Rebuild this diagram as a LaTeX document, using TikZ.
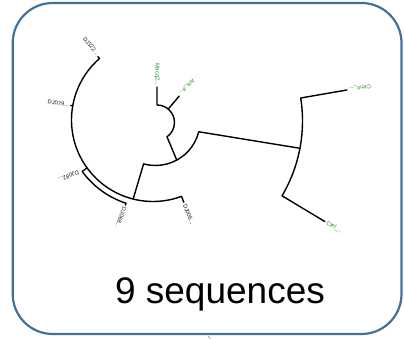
\documentclass[tikz,border=0pt]{standalone}
\usepackage{fontspec}
\setmainfont{Liberation Sans}
\usetikzlibrary{calc}
\definecolor{boxblue}{RGB}{65,113,156}
\definecolor{leafgreen}{RGB}{40,140,40}
\definecolor{leafdark}{RGB}{30,30,30}
\begin{document}
\begin{tikzpicture}[x=1pt,y=1pt,
  branch/.style={line width=1.4pt, line cap=round, line join=round},
  leaflabel/.style={font=\fontsize{5.8}{6}\selectfont, inner sep=0.5pt, text=leafdark},
  greenlabel/.style={leaflabel, text=leafgreen}]
\useasboundingbox (0,0) rectangle (404,339);
% frame
\draw[boxblue, line width=2.2pt, rounded corners=40pt] (12.7,5) rectangle (401.5,336);
\draw[boxblue!70, line width=0.6pt] (208.3,3) -- (210.3,0.3);
% title
\node[anchor=base, font=\fontsize{37}{40}\selectfont, inner sep=0pt] (title) at (220,35.7) {9 sequences};
% inner arc (Macq / Ant)
\begin{scope}[shift={(157,216.5)}]
  \coordinate (Amacq) at (90:17.5);
  \coordinate (Amacqtip) at (90:35.5);
  \coordinate (Aant) at (50:17.5);
  \coordinate (Aanttip) at (50:34.5);
  \coordinate (Aend) at (-55:17.5);
  \node[greenlabel, anchor=east, rotate=-90] (macq) at (90:36.5) {Macq2...};
  \node[greenlabel, anchor=east, rotate=230] (ant) at (50:35.5) {Ant\_a...};
\end{scope}
% middle and right arcs
\begin{scope}[shift={(155.5,218)}]
  \coordinate (Bleft) at (-105.5:44.5);
  \coordinate (Bright) at (-14:44.5);
  \coordinate (Bmid) at (-61.5:44.5);
  \coordinate (Etop) at (9:147);
  \coordinate (Ejoin) at (-10.7:147);
  \coordinate (cenotip) at (9.2:194);
  \coordinate (ctelip) at (-30.7:197);
  \node[greenlabel, anchor=east, rotate=189.2] (ceno) at (9.2:195.5) {Ceno\_...};
  \node[greenlabel, anchor=west, rotate=-30.7] (ctel) at (-30.7:198.5) {Ctel\_...};
\end{scope}
% big arc
\begin{scope}[shift={(153,219)}]
  \coordinate (D322) at (131:81.5);
  \coordinate (D322tip) at (131:84);
  \coordinate (Djoin) at (255.9:81.5);
  \coordinate (D006tip) at (290.5:88);
  \coordinate (D079) at (170:81.5);
  \coordinate (D079tip) at (170:83.5);
  \coordinate (X082) at (216:81.5);
  \coordinate (X082tip) at (216:87.5);
  \coordinate (X068tip) at (252:89.5);
  \node[leaflabel, anchor=east, rotate=-50] (dj322) at (130:85) {DJ322...};
  \node[leaflabel, anchor=east, rotate=-10] (dj079) at (170:84.5) {DJ079...};
  \node[leaflabel, anchor=west, rotate=203] (dj082) at (215:90) {DJ082...};
  \node[leaflabel, anchor=west, rotate=250] (dj068) at (252:91) {DJ068...};
  \node[leaflabel, anchor=west, rotate=-68] (dj006) at (290.5:89.5) {DJ006...};
\end{scope}
% branches
\draw[branch] (Amacqtip) -- (Amacq) arc[start angle=90, end angle=-55, radius=17.5];
\draw[branch] (Aant) -- (Aanttip);
\draw[branch] (Aend) -- (Bmid);
\draw[branch] (Bleft) arc[start angle=-105.5, end angle=-14, radius=44.5] -- (Ejoin);
\draw[branch] (cenotip) -- (Etop) arc[start angle=9, end angle=-30.6, radius=147] -- (ctelip);
\draw[branch] (Bleft) -- (Djoin);
\draw[branch] (D322tip) -- (D322) arc[start angle=131, end angle=290.5, radius=81.5] -- (D006tip);
\draw[branch] (D079) -- (D079tip);
\draw[branch] (X082) -- (X082tip) arc[start angle=216, end angle=252, radius=87.5] -- (X068tip);
\end{tikzpicture}
\end{document}
